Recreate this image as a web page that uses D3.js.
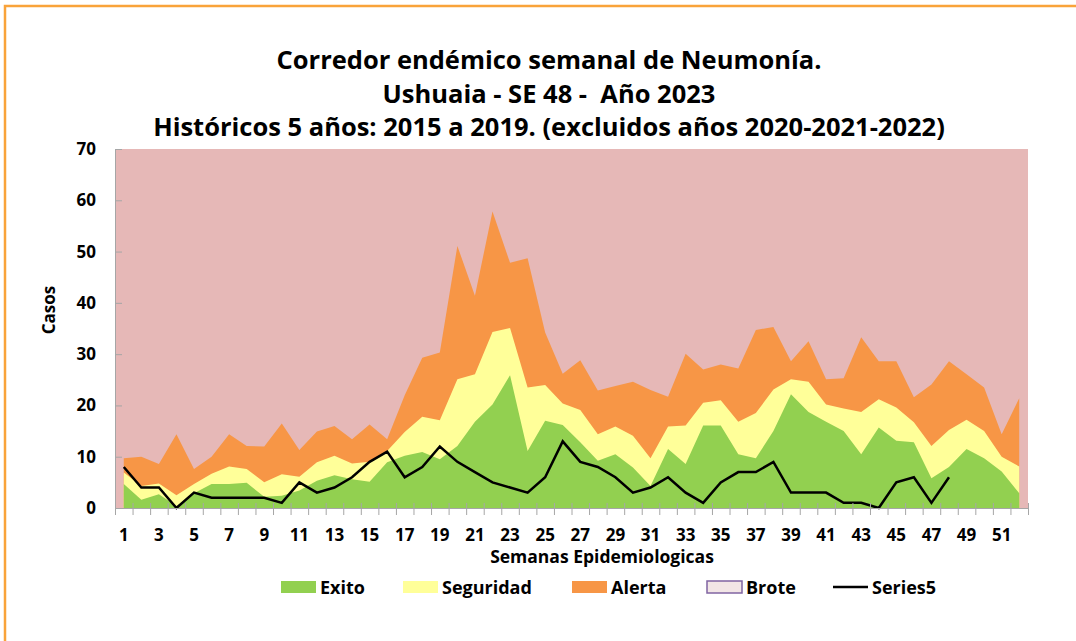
<!DOCTYPE html>
<html>
<head>
<meta charset="utf-8">
<script src="https://cdn.jsdelivr.net/npm/d3@7"></script>
<style>
  body { margin: 0; background: #fff; }
  svg { display: block; font-family: "Open Sans", sans-serif; }
</style>
</head>
<body>
<svg id="chart" width="1076" height="641"></svg>
<script>
// semanas epidemiologicas
const semanas = d3.range(1, 53);
// limites del corredor (cuartiles historicos 2015-2019)
const exito = [4.7, 1.6, 2.7, 0.4, 2.9, 4.7, 4.7, 4.9, 2.2, 2.4, 3.4, 5.3, 6.4, 5.6, 5.1, 8.9, 10.2, 10.9, 9.5, 12.1,
  16.8, 20.2, 25.9, 11.1, 17.0, 16.2, 12.8, 9.2, 10.5, 7.9, 4.3, 11.5, 8.6, 16.1, 16.1, 10.5, 9.7, 15.0, 22.2, 18.7,
  16.8, 15.0, 10.5, 15.7, 13.1, 12.8, 5.8, 8.0, 11.5, 9.7, 7.1, 2.9];
const seguridad = [6.9, 4.3, 4.8, 2.5, 4.7, 6.7, 8.1, 7.6, 5.0, 6.6, 6.1, 8.9, 10.2, 8.7, 9.0, 11.1, 14.8, 17.8, 17.1, 25.1,
  26.1, 34.3, 35.1, 23.5, 24.0, 20.4, 19.1, 14.4, 15.9, 14.1, 9.7, 15.9, 16.1, 20.5, 21.0, 16.8, 18.5, 23.1, 25.1, 24.6,
  20.2, 19.4, 18.7, 21.2, 19.6, 16.7, 12.1, 15.2, 17.2, 15.0, 10.0, 8.1];
const alerta = [9.7, 10.0, 8.6, 14.4, 7.6, 10.0, 14.4, 12.1, 12.0, 16.5, 11.3, 14.9, 16.0, 13.4, 16.3, 13.4, 22.0, 29.3, 30.3, 51.1,
  41.4, 57.8, 47.8, 48.7, 34.2, 26.2, 28.8, 22.9, 23.8, 24.6, 23.0, 21.7, 30.1, 27.0, 28.0, 27.2, 34.7, 35.3, 28.6, 32.5,
  25.1, 25.3, 33.3, 28.6, 28.6, 21.6, 24.1, 28.6, 26.1, 23.5, 14.4, 21.4];
// casos 2023 (hasta SE 48)
const series5 = [8, 4, 4, 0, 3, 2, 2, 2, 2, 1, 5, 3, 4, 6, 9, 11, 6, 8, 12, 9, 7, 5, 4, 3, 6, 13, 9, 8, 6, 3,
  4, 6, 3, 1, 5, 7, 7, 9, 3, 3, 3, 1, 1, 0, 5, 6, 1, 6];
const yTicks = [0, 10, 20, 30, 40, 50, 60, 70];

const svg = d3.select("#chart");
const margin = { top: 149, right: 48, bottom: 133, left: 115 };
const width = 1076, height = 641;
const axisColor = "#a6a6a6";

// marco naranja
svg.append("rect")
    .attr("x", 5).attr("y", 6)
    .attr("width", width + 20).attr("height", height + 20)
    .attr("fill", "none")
    .attr("stroke", "#f9a33a")
    .attr("stroke-width", 2.5);

// titulo
const titles = [
  "Corredor endémico semanal de Neumonía.",
  "Ushuaia - SE 48 -  Año 2023",
  "Históricos 5 años: 2015 a 2019. (excluidos años 2020-2021-2022)"
];
svg.append("g").selectAll("text")
    .data(titles)
    .join("text")
    .attr("x", 549)
    .attr("y", (d, i) => 69 + i * 33.5)
    .attr("text-anchor", "middle")
    .attr("font-size", 25.5)
    .attr("font-weight", 700)
    .attr("fill", "#000")
    .style("white-space", "pre")
    .text(d => d);

const x = d3.scaleBand()
    .domain(semanas)
    .range([margin.left, width - margin.right]);
const cx = d => x(d) + x.bandwidth() / 2;

const y = d3.scaleLinear()
    .domain([0, 70])
    .range([height - margin.bottom, margin.top]);

// fondo = Brote
svg.append("rect")
    .attr("x", margin.left)
    .attr("y", y(70))
    .attr("width", width - margin.right - margin.left)
    .attr("height", y(0) - y(70))
    .attr("fill", "#e6b8b7");

const rows = semanas.map((s, i) => ({ s, exito: exito[i], seguridad: seguridad[i], alerta: alerta[i] }));

const bands = [
  { key: "alerta", color: "#f79646" },
  { key: "seguridad", color: "#ffff99" },
  { key: "exito", color: "#92d050" }
];
bands.forEach(b => {
  svg.append("path")
      .datum(rows)
      .attr("fill", b.color)
      .attr("d", d3.area()
          .x(d => cx(d.s))
          .y0(y(0))
          .y1(d => y(d[b.key])));
});

// linea 2023
svg.append("path")
    .datum(series5)
    .attr("fill", "none")
    .attr("stroke", "#000")
    .attr("stroke-width", 2.5)
    .attr("stroke-linejoin", "miter")
    .attr("d", d3.line()
        .x((d, i) => cx(semanas[i]))
        .y(d => y(d)));

// eje Y
const yAxis = svg.append("g")
    .attr("transform", `translate(${margin.left},0)`)
    .call(d3.axisLeft(y).tickValues(yTicks).tickSizeInner(-7).tickSizeOuter(0).tickPadding(19));
yAxis.select(".domain").attr("stroke", axisColor);
yAxis.selectAll(".tick line").attr("stroke", axisColor);
yAxis.selectAll(".tick text")
    .attr("font-size", 17)
    .attr("font-weight", 700)
    .attr("font-family", "Open Sans")
    .attr("fill", "#000");

// eje X (marcas entre categorias)
const edge = d3.scaleLinear().domain([0, 52]).range([margin.left, width - margin.right]);
const xAxis = svg.append("g")
    .attr("transform", `translate(0,${y(0)})`)
    .call(d3.axisBottom(edge).tickValues(d3.range(0, 53)).tickFormat("").tickSizeOuter(0));
xAxis.select(".domain").attr("stroke", axisColor);
xAxis.selectAll(".tick line").attr("stroke", axisColor).attr("y1", -5).attr("y2", 7);

const xLabels = svg.append("g")
    .attr("transform", `translate(0,${y(0)})`)
    .call(d3.axisBottom(x).tickValues(semanas.filter(s => s % 2 === 1)).tickSize(0).tickPadding(21));
xLabels.select(".domain").remove();
xLabels.selectAll(".tick text")
    .attr("font-size", 17)
    .attr("font-weight", 700)
    .attr("font-family", "Open Sans")
    .attr("fill", "#000");

// titulos de ejes
svg.append("text")
    .attr("x", 602).attr("y", 563)
    .attr("text-anchor", "middle")
    .attr("font-size", 17.5).attr("font-weight", 700)
    .text("Semanas Epidemiologicas");

svg.append("text")
    .attr("transform", "translate(55,310) rotate(-90)")
    .attr("text-anchor", "middle")
    .attr("font-size", 17).attr("font-weight", 700)
    .text("Casos");

// leyenda
const legendItems = [
  { label: "Exito", x: 281, fill: "#92d050", type: "box" },
  { label: "Seguridad", x: 403, fill: "#ffff99", type: "box" },
  { label: "Alerta", x: 572, fill: "#f79646", type: "box" },
  { label: "Brote", x: 707, fill: "#f2e6e6", stroke: "#8064a2", type: "box" },
  { label: "Series5", x: 833, type: "line" }
];
const legend = svg.append("g")
    .selectAll("g")
    .data(legendItems)
    .join("g")
    .attr("transform", d => `translate(${d.x},587)`);

legend.filter(d => d.type === "box").append("rect")
    .attr("x", 0).attr("y", -6)
    .attr("width", 35).attr("height", 12)
    .attr("fill", d => d.fill)
    .attr("stroke", d => d.stroke || "none")
    .attr("stroke-width", 1.5);

legend.filter(d => d.type === "line").append("line")
    .attr("x1", 0).attr("x2", 35)
    .attr("stroke", "#000").attr("stroke-width", 2.5);

legend.append("text")
    .attr("x", 39).attr("y", 6.5)
    .attr("font-size", 18).attr("font-weight", 700)
    .text(d => d.label);
</script>
</body>
</html>
